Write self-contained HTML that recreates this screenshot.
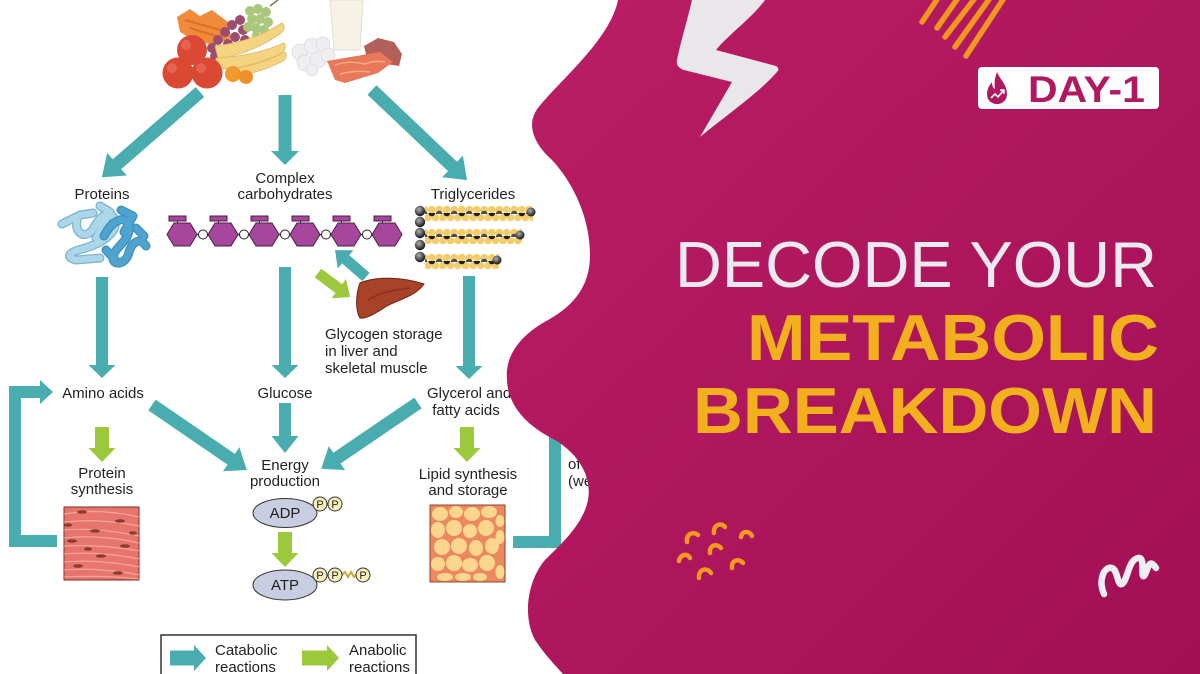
<!DOCTYPE html>
<html><head><meta charset="utf-8"><style>
html,body{margin:0;padding:0;background:#fff;}
svg{display:block;}
text{font-family:"Liberation Sans",Arial,sans-serif;}
</style></head><body>
<svg width="1200" height="674" viewBox="0 0 1200 674" xmlns="http://www.w3.org/2000/svg">
<defs>
<linearGradient id="mg" x1="0" y1="0" x2="1" y2="1"><stop offset="0" stop-color="#bb1e65"/><stop offset="1" stop-color="#a20f55"/></linearGradient>
<radialGradient id="bb" cx="0.4" cy="0.35" r="0.65"><stop offset="0" stop-color="#b0b0b0"/><stop offset="1" stop-color="#151515"/></radialGradient>
<pattern id="fa" x="428" y="-8" width="15" height="17" patternUnits="userSpaceOnUse">
<circle cx="3.75" cy="4.5" r="3.8" fill="#f2cd6a"/><circle cx="11.25" cy="4.5" r="3.8" fill="#f2cd6a"/>
<circle cx="0" cy="12.5" r="3.8" fill="#f2cd6a"/><circle cx="7.5" cy="12.5" r="3.8" fill="#f2cd6a"/><circle cx="15" cy="12.5" r="3.8" fill="#f2cd6a"/>
<path d="M0.5,8 a3.3,3.3 0 0 0 6.6,0 z" fill="#1e1e1e"/>
<path d="M7.9,9 a3.3,3.3 0 0 1 6.6,0 z" fill="#4a4a4a"/>
</pattern>
</defs>

<rect width="1200" height="674" fill="#fff"/>

<!-- FOOD -->
<polygon points="177,17 190,9 200,16 212,10 228,22 231,38 215,45 195,41 180,32" fill="#f08b3b"/>
<path d="M185,20 L220,30 M190,28 L222,38" stroke="#e06f25" stroke-width="2" fill="none"/>
<g fill="#9b4d6b">
<circle cx="212" cy="48" r="5"/><circle cx="218" cy="40" r="5"/><circle cx="225" cy="32" r="5"/><circle cx="232" cy="25" r="5"/><circle cx="240" cy="20" r="5"/><circle cx="220" cy="51" r="5"/><circle cx="228" cy="44" r="5"/><circle cx="235" cy="37" r="5"/><circle cx="243" cy="30" r="5"/><circle cx="214" cy="56" r="4"/><circle cx="245" cy="40" r="5"/>
</g>
<g fill="#aac87c">
<circle cx="250" cy="11" r="5"/><circle cx="258" cy="9" r="5"/><circle cx="266" cy="12" r="5"/><circle cx="252" cy="19" r="5"/><circle cx="260" cy="19" r="5"/><circle cx="268" cy="22" r="5"/><circle cx="248" cy="27" r="5"/><circle cx="256" cy="28" r="5"/><circle cx="264" cy="30" r="5"/><circle cx="256" cy="35" r="4"/>
</g>
<path d="M270,6 L278,0" stroke="#8a6a5a" stroke-width="1.5"/>
<g fill="#f4d480" stroke="#e0b860" stroke-width="0.8">
<path d="M215,46 Q252,42 282,23 Q287,28 281,33 Q250,55 218,58 Z"/>
<path d="M216,58 Q255,56 284,43 Q288,49 280,54 Q250,68 220,69 Z"/>
<path d="M226,70 Q258,66 285,52 Q289,58 281,62 Q255,75 230,76 Z"/>
</g>
<circle cx="233" cy="74" r="8" fill="#f29a2c"/><circle cx="246" cy="77" r="7" fill="#f0902a"/>
<g fill="#db4833">
<circle cx="192" cy="50" r="15"/><circle cx="178" cy="73" r="15.5"/><circle cx="207" cy="73" r="15.5"/>
</g>
<g fill="#ea7462" opacity="0.6"><circle cx="186" cy="45" r="5"/><circle cx="172" cy="68" r="5"/><circle cx="201" cy="68" r="5"/></g>
<polygon points="330,0 363,0 360,50 334,50" fill="#f6f2e6" stroke="#e2ddd0"/>
<g fill="#efeff1" stroke="#dcdce0" stroke-width="0.8">
<circle cx="300" cy="52" r="8"/><circle cx="312" cy="46" r="8"/><circle cx="323" cy="44" r="7"/><circle cx="305" cy="63" r="8"/><circle cx="318" cy="60" r="8"/><circle cx="328" cy="55" r="7"/><circle cx="312" cy="70" r="6"/>
</g>
<polygon points="364,46 378,38 394,42 402,54 399,66 386,64 368,62" fill="#b3605a"/>
<polygon points="327,61 380,52 393,62 378,73 345,83 335,80" fill="#e9785a"/>
<path d="M335,65 Q350,60 365,64 Q375,60 385,62 M340,74 Q355,70 370,72" stroke="#f5a886" stroke-width="1.5" fill="none"/>

<!-- TOP ARROWS -->
<g fill="#49adb0">
<g transform="translate(200,92) rotate(139)"><polygon points="0,-6.5 110,-6.5 110,-15 130,0 110,15 110,6.5 0,6.5"/></g>
<g transform="translate(285,95) rotate(90)"><polygon points="0,-6.5 56,-6.5 56,-14 70,0 56,14 56,6.5 0,6.5"/></g>
<g transform="translate(372,90) rotate(43.5)"><polygon points="0,-6.5 111,-6.5 111,-15 131,0 111,15 111,6.5 0,6.5"/></g>
</g>

<g font-size="15" fill="#231f20" text-anchor="middle">
<text x="102" y="199">Proteins</text>
<text x="285" y="183">Complex</text>
<text x="285" y="199">carbohydrates</text>
<text x="473" y="199">Triglycerides</text>
</g>

<!-- PROTEIN -->
<g fill="none" stroke-linecap="round" stroke-linejoin="round">
<g stroke="#7ab3cf" stroke-width="9">
<path d="M62,224 L80,215 L93,213 M78,216 C72,234 86,240 93,229 C100,216 110,208 115,220 C118,234 100,244 82,249 C70,252 64,257 76,260 L100,258 M100,206 L110,212 L96,238"/>
</g>
<g stroke="#acd6ea" stroke-width="6.5">
<path d="M62,224 L80,215 L93,213 M78,216 C72,234 86,240 93,229 C100,216 110,208 115,220 C118,234 100,244 82,249 C70,252 64,257 76,260 L100,258 M100,206 L110,212 L96,238"/>
</g>
<g stroke="#3b8fbd" stroke-width="9">
<path d="M104,236 C112,220 126,214 129,226 C131,240 116,246 113,256 C111,266 126,266 129,252 C133,240 141,238 146,246 M121,210 L133,216 L124,232 M106,250 L118,263 M136,228 L144,236"/>
</g>
<g stroke="#4fa3cf" stroke-width="6.5">
<path d="M104,236 C112,220 126,214 129,226 C131,240 116,246 113,256 C111,266 126,266 129,252 C133,240 141,238 146,246 M121,210 L133,216 L124,232 M106,250 L118,263 M136,228 L144,236"/>
</g>
</g>

<!-- CARB CHAIN -->
<line x1="182" y1="234.5" x2="387" y2="234.5" stroke="#3a1a36" stroke-width="1.2"/>
<g fill="#a6479d" stroke="#4a1f45" stroke-width="1">
<g id="hx">
<polygon points="167,234.5 174,223 190,223 197,234.5 190,246 174,246"/>
<rect x="169" y="216" width="17" height="5"/>
<line x1="177.5" y1="221" x2="177.5" y2="223"/>
</g>
<use href="#hx" x="41"/><use href="#hx" x="82"/><use href="#hx" x="123"/><use href="#hx" x="164"/><use href="#hx" x="205"/>
</g>
<g fill="#fff" stroke="#2a1a28" stroke-width="1">
<circle cx="203" cy="234.5" r="4.5"/><circle cx="244" cy="234.5" r="4.5"/><circle cx="285" cy="234.5" r="4.5"/><circle cx="326" cy="234.5" r="4.5"/><circle cx="367" cy="234.5" r="4.5"/>
</g>

<!-- TRIGLYCERIDES -->
<g transform="translate(0,213)"><rect x="425" y="-8" width="108" height="17" fill="url(#fa)"/></g>
<g transform="translate(0,236)"><rect x="425" y="-8" width="97" height="17" fill="url(#fa)"/></g>
<g transform="translate(0,261)"><rect x="425" y="-8" width="74" height="17" fill="url(#fa)"/></g>
<g fill="url(#bb)">
<circle cx="420" cy="211" r="5.2"/><circle cx="420" cy="222" r="5.2"/><circle cx="420" cy="233" r="5.2"/><circle cx="420" cy="245" r="5.2"/><circle cx="420" cy="257" r="5.2"/>
<circle cx="531" cy="212" r="4.5"/><circle cx="520" cy="235" r="4.5"/><circle cx="497" cy="260" r="4.5"/>
</g>

<!-- LIVER -->
<path d="M360,283 C376,276 402,277 424,284 C416,296 398,300 387,306 C376,313 366,319 360,318 C355,310 356,293 360,283 Z" fill="#a8432a" stroke="#6b2515" stroke-width="1"/>
<path d="M368,300 C380,292 395,290 410,288" stroke="#8a3220" stroke-width="1.5" fill="none"/>
<g transform="translate(318,273) rotate(36.9)" fill="#9cc83b"><polygon points="0,-5.5 26,-5.5 26,-12 40,0 26,12 26,5.5 0,5.5"/></g>
<g transform="translate(366,277) rotate(-139)" fill="#49adb0"><polygon points="0,-5.5 27,-5.5 27,-12 41,0 27,12 27,5.5 0,5.5"/></g>

<g font-size="15" fill="#231f20">
<text x="325" y="339">Glycogen storage</text>
<text x="325" y="356">in liver and</text>
<text x="325" y="373">skeletal muscle</text>
</g>

<!-- VERTICAL ARROWS -->
<g fill="#49adb0">
<g transform="translate(102,277) rotate(90)"><polygon points="0,-6 88,-6 88,-13.5 101,0 88,13.5 88,6 0,6"/></g>
<g transform="translate(285,267) rotate(90)"><polygon points="0,-6 98,-6 98,-13.5 111,0 98,13.5 98,6 0,6"/></g>
<g transform="translate(469,276) rotate(90)"><polygon points="0,-6 90,-6 90,-13.5 103,0 90,13.5 90,6 0,6"/></g>
<g transform="translate(152,405) rotate(34.4)"><polygon points="0,-6.5 96,-6.5 96,-14.5 115,0 96,14.5 96,6.5 0,6.5"/></g>
<g transform="translate(285,403) rotate(90)"><polygon points="0,-6 33,-6 33,-13.5 50,0 33,13.5 33,6 0,6"/></g>
<g transform="translate(418,403) rotate(145.8)"><polygon points="0,-6.5 98,-6.5 98,-14.5 117,0 98,14.5 98,6.5 0,6.5"/></g>
<!-- left bracket -->
<rect x="9" y="386" width="12" height="161"/>
<rect x="9" y="535" width="48" height="12"/>
<rect x="9" y="386" width="33" height="12"/>
<polygon points="40,380 53,392 40,404"/>
<!-- right bracket -->
<rect x="549" y="420" width="12" height="128"/>
<rect x="513" y="536" width="48" height="12"/>
<!-- legend -->
<polygon points="170,650.5 194,650.5 194,645 206,658 194,671 194,665.5 170,665.5"/>
</g>
<g fill="#9cc83b">
<g transform="translate(102,427) rotate(90)"><polygon points="0,-7 21,-7 21,-13.5 35,0 21,13.5 21,7 0,7"/></g>
<g transform="translate(467,427) rotate(90)"><polygon points="0,-7 21,-7 21,-13.5 35,0 21,13.5 21,7 0,7"/></g>
<g transform="translate(285,532) rotate(90)"><polygon points="0,-7 21,-7 21,-13.5 35,0 21,13.5 21,7 0,7"/></g>
<polygon points="302,650.5 327,650.5 327,645 339,658 327,671 327,665.5 302,665.5"/>
</g>

<g font-size="15" fill="#231f20" text-anchor="middle">
<text x="103" y="398">Amino acids</text>
<text x="285" y="398">Glucose</text>
<text x="466" y="415">fatty acids</text>
<text x="102" y="478">Protein</text>
<text x="102" y="494">synthesis</text>
<text x="285" y="470">Energy</text>
<text x="285" y="486">production</text>
<text x="468" y="479">Lipid synthesis</text>
<text x="468" y="495">and storage</text>
</g>
<g font-size="15" fill="#231f20">
<text x="427" y="398">Glycerol and</text>
<text x="568" y="469">of</text>
<text x="568" y="486">(we</text>
</g>

<!-- MUSCLE -->
<rect x="64" y="507" width="75" height="73" fill="#e8756b" stroke="#7a2e25" stroke-width="1"/>
<g stroke="#f5aa9f" stroke-width="1.1" fill="none">
<path d="M64,514 Q100,508 139,517"/><path d="M64,522 Q100,518 139,526"/><path d="M64,530 Q95,527 139,536"/><path d="M64,538 Q100,534 139,543"/><path d="M64,546 Q100,544 139,551"/><path d="M64,554 Q100,551 139,559"/><path d="M64,562 Q100,559 139,567"/><path d="M64,570 Q100,567 139,575"/><path d="M64,577 Q100,575 139,579"/>
</g>
<g fill="#8f3a2f">
<ellipse cx="82" cy="512" rx="5" ry="1.8"/><ellipse cx="120" cy="521" rx="5" ry="1.8"/><ellipse cx="95" cy="531" rx="5" ry="1.8"/><ellipse cx="72" cy="541" rx="5" ry="1.8"/><ellipse cx="125" cy="546" rx="5" ry="1.8"/><ellipse cx="101" cy="556" rx="5" ry="1.8"/><ellipse cx="78" cy="566" rx="5" ry="1.8"/><ellipse cx="118" cy="573" rx="5" ry="1.8"/><ellipse cx="133" cy="533" rx="4" ry="1.8"/><ellipse cx="88" cy="549" rx="4" ry="1.8"/><ellipse cx="68" cy="525" rx="4" ry="1.8"/>
</g>

<!-- FAT -->
<rect x="430" y="505" width="75" height="77" fill="#ec8760" stroke="#8a4a30" stroke-width="1"/>
<g fill="#fdd68d">
<ellipse cx="440" cy="514" rx="8" ry="7"/><ellipse cx="456" cy="512" rx="7" ry="6"/><ellipse cx="472" cy="514" rx="8" ry="7"/><ellipse cx="489" cy="512" rx="8" ry="6"/><ellipse cx="500" cy="521" rx="4.5" ry="6"/>
<ellipse cx="438" cy="530" rx="7" ry="8"/><ellipse cx="454" cy="528" rx="8" ry="8"/><ellipse cx="470" cy="531" rx="7" ry="7"/><ellipse cx="486" cy="528" rx="8" ry="8"/><ellipse cx="500" cy="537" rx="4.5" ry="7"/>
<ellipse cx="442" cy="547" rx="8" ry="8"/><ellipse cx="459" cy="546" rx="8" ry="8"/><ellipse cx="476" cy="548" rx="7" ry="8"/><ellipse cx="492" cy="546" rx="7" ry="8"/>
<ellipse cx="438" cy="564" rx="7" ry="7"/><ellipse cx="454" cy="563" rx="8" ry="8"/><ellipse cx="470" cy="565" rx="8" ry="7"/><ellipse cx="487" cy="563" rx="8" ry="8"/><ellipse cx="500" cy="572" rx="4.5" ry="7"/>
<ellipse cx="445" cy="577" rx="8" ry="4"/><ellipse cx="463" cy="577" rx="8" ry="4"/><ellipse cx="480" cy="577" rx="7" ry="4"/>
</g>

<!-- ADP / ATP -->
<ellipse cx="285" cy="513" rx="32" ry="14.5" fill="#c9cde1" stroke="#333" stroke-width="1"/>
<ellipse cx="285" cy="585" rx="32" ry="15" fill="#c9cde1" stroke="#333" stroke-width="1"/>
<path d="M342,575 l3,-3 l3,5 l3,-5 l3,5 l2,-2" stroke="#c9a83a" stroke-width="2" fill="none"/>
<g fill="#f7f0bd" stroke="#333" stroke-width="1">
<circle cx="320" cy="504" r="7"/><circle cx="335" cy="504" r="7"/>
<circle cx="320" cy="575" r="7"/><circle cx="335" cy="575" r="7"/><circle cx="363" cy="575" r="7"/>
</g>
<g font-size="15" fill="#231f20" text-anchor="middle">
<text x="285" y="518">ADP</text>
<text x="285" y="590">ATP</text>
</g>
<g font-size="11" fill="#231f20" text-anchor="middle">
<text x="320" y="508">P</text><text x="335" y="508">P</text>
<text x="320" y="579">P</text><text x="335" y="579">P</text><text x="363" y="579">P</text>
</g>

<!-- LEGEND -->
<rect x="161" y="635" width="255" height="50" fill="none" stroke="#333" stroke-width="1.5"/>
<g font-size="15" fill="#231f20">
<text x="215" y="655">Catabolic</text>
<text x="215" y="672">reactions</text>
<text x="349" y="655">Anabolic</text>
<text x="349" y="672">reactions</text>
</g>

<!-- MAGENTA BLOB -->
<path d="M618,0 C610,40 560,80 538,108 C525,125 535,145 552,160 C575,185 590,220 590,255 C590,285 575,305 548,320 C515,338 505,360 507,380 C508,405 525,425 555,440 C580,455 592,478 588,500 C583,525 560,545 545,560 C528,580 522,615 535,640 C545,655 555,665 563,674 L1200,674 L1200,0 Z" fill="url(#mg)"/>

<!-- BOLT -->
<path d="M692,0 L765,0 C752,18 728,35 716,50 L776,66 C779,68 779,70 777,72 C760,92 720,120 700,137 L732,82 L684,70 C678,68 676,64 677,60 C681,40 688,18 692,0 Z" fill="#e9e7e9"/>

<!-- ORANGE STRIPES -->
<g stroke="#f0981e" stroke-width="5.5" stroke-linecap="round">
<line x1="938" y1="-2" x2="922" y2="22"/>
<line x1="958" y1="-2" x2="937" y2="28"/>
<line x1="975" y1="-2" x2="945" y2="37"/>
<line x1="990" y1="-2" x2="955" y2="47"/>
<line x1="1004" y1="-2" x2="966" y2="56"/>
</g>

<!-- DAY-1 BADGE -->
<rect x="978" y="67" width="181" height="42" rx="4" fill="#fff"/>
<path d="M997,72 C999,78 1007,84 1007,94 C1007,100 1003,104 997,104 C991,104 987,100 987,94 C987,88 990,85 992,82 C992,86 993,88 995,89 C994,83 995,77 997,72 Z" fill="#b0195f"/>
<path d="M991,98 L995,94 L998,97 L1003,91" stroke="#fff" stroke-width="1.6" fill="none"/>
<path d="M1000,90 L1004,90 L1004,94" stroke="#fff" stroke-width="1.4" fill="none"/>
<text x="1028" y="102" font-size="37" font-weight="bold" fill="#b0195f" textLength="117" lengthAdjust="spacingAndGlyphs">DAY-1</text>

<!-- TITLE -->
<text x="675" y="287" font-size="65" fill="#ece9ef" textLength="482" lengthAdjust="spacingAndGlyphs">DECODE YOUR</text>
<text x="747" y="360" font-size="65" font-weight="bold" fill="#f2b01e" textLength="412" lengthAdjust="spacingAndGlyphs">METABOLIC</text>
<text x="693" y="433" font-size="65" font-weight="bold" fill="#f2b01e" textLength="464" lengthAdjust="spacingAndGlyphs">BREAKDOWN</text>

<!-- ORANGE SQUIGGLES -->
<g stroke="#f39a1f" stroke-width="4.5" stroke-linecap="round" fill="none">
<path d="M687,542 C686,534 693,531 698,535"/>
<path d="M714,533 C713,525 721,522 725,527"/>
<path d="M741,537 C742,530 750,531 752,536"/>
<path d="M710,553 C709,545 717,543 721,548"/>
<path d="M679,561 C680,554 688,553 690,558"/>
<path d="M732,568 C731,560 739,558 743,563"/>
<path d="M699,578 C698,569 707,567 711,573"/>
</g>

<!-- WHITE SQUIGGLE -->
<path d="M1104,594 C1098,580 1104,566 1112,568 C1118,570 1117,586 1122,584 C1128,580 1128,560 1138,558 C1146,556 1140,578 1144,576 C1148,572 1148,556 1156,568" stroke="#f0eef2" stroke-width="6.5" stroke-linecap="round" stroke-linejoin="round" fill="none"/>
</svg>
</body></html>
